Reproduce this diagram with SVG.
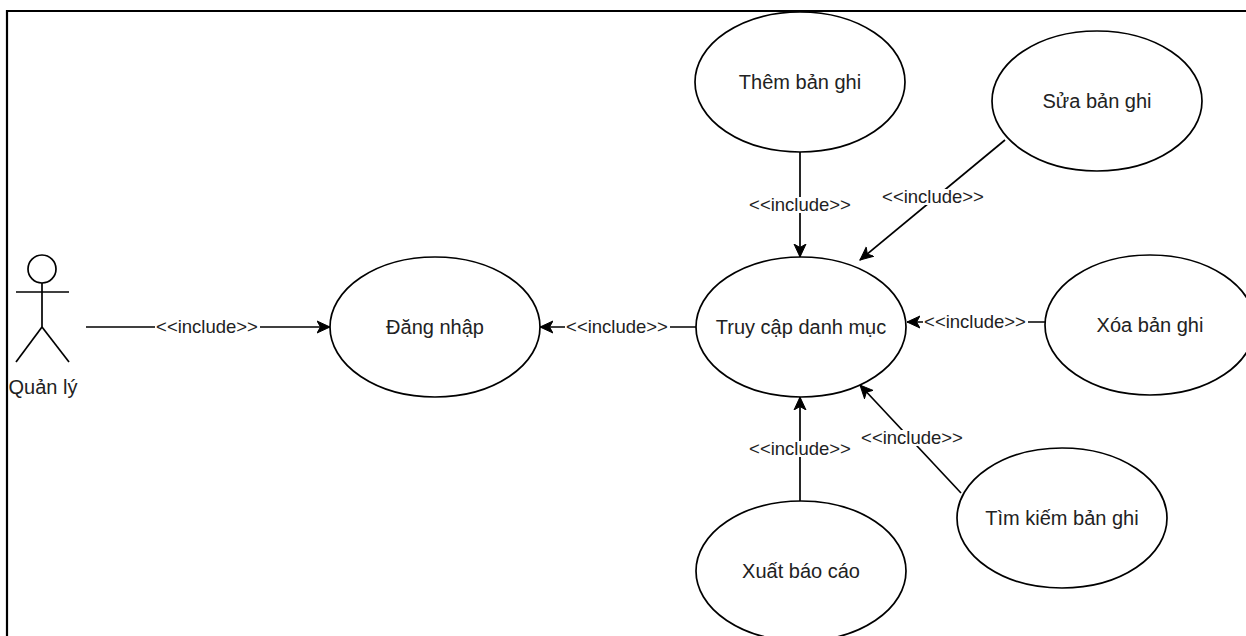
<svg xmlns="http://www.w3.org/2000/svg" width="1246" height="636" viewBox="0 0 1246 636">
  <style>
    .uc { fill: #ffffff; stroke: #000000; stroke-width: 1.7; }
    .uc-text { font-family: "Liberation Sans", Arial, sans-serif; font-size: 20px; fill: #222222; text-anchor: middle; }
    .edge { stroke: #000000; stroke-width: 1.7; fill: none; }
    .edge-label { font-family: "Liberation Sans", Arial, sans-serif; font-size: 18.5px; fill: #222222; text-anchor: middle; }
    .label-bg { fill: #ffffff; }
    .actor { stroke: #000000; stroke-width: 1.7; fill: #ffffff; }
  </style>
  <defs>
    <marker id="arrow" viewBox="0 0 14 14" refX="13" refY="7" markerWidth="14" markerHeight="14" markerUnits="userSpaceOnUse" orient="auto">
      <path d="M0,1 L13,7 L0,13 L3.5,7 Z" fill="#000000" stroke="#000000" stroke-width="1" stroke-linejoin="miter"/>
    </marker>
  </defs>

  <rect x="0" y="0" width="1246" height="636" fill="#ffffff"/>

  <!-- frame -->
  <path d="M7,636 V11 H1246" fill="none" stroke="#000000" stroke-width="2.2"/>

  <!-- connectors -->
  <g id="connectors">
    <line class="edge" x1="86" y1="327" x2="330" y2="327" marker-end="url(#arrow)"/>
    <line class="edge" x1="696" y1="327" x2="540" y2="327" marker-end="url(#arrow)"/>
    <line class="edge" x1="800" y1="152" x2="800" y2="257" marker-end="url(#arrow)"/>
    <line class="edge" x1="1005" y1="140" x2="860" y2="260" marker-end="url(#arrow)"/>
    <line class="edge" x1="1045" y1="322" x2="907" y2="322" marker-end="url(#arrow)"/>
    <line class="edge" x1="800" y1="501" x2="800" y2="397" marker-end="url(#arrow)"/>
    <line class="edge" x1="961" y1="493" x2="860" y2="385" marker-end="url(#arrow)"/>

    <rect class="label-bg" x="155" y="319" width="105" height="16"/>
    <text class="edge-label" x="207" y="333">&lt;&lt;include&gt;&gt;</text>
    <rect class="label-bg" x="565" y="319" width="105" height="16"/>
    <text class="edge-label" x="617" y="333">&lt;&lt;include&gt;&gt;</text>
    <rect class="label-bg" x="748" y="197" width="105" height="16"/>
    <text class="edge-label" x="800" y="211">&lt;&lt;include&gt;&gt;</text>
    <rect class="label-bg" x="881" y="189" width="105" height="16"/>
    <text class="edge-label" x="933" y="203">&lt;&lt;include&gt;&gt;</text>
    <rect class="label-bg" x="923" y="314" width="105" height="16"/>
    <text class="edge-label" x="975" y="328">&lt;&lt;include&gt;&gt;</text>
    <rect class="label-bg" x="748" y="441" width="105" height="16"/>
    <text class="edge-label" x="800" y="455">&lt;&lt;include&gt;&gt;</text>
    <rect class="label-bg" x="860" y="430" width="105" height="16"/>
    <text class="edge-label" x="912" y="444">&lt;&lt;include&gt;&gt;</text>
  </g>

  <!-- actor -->
  <g id="actor-quan-ly">
    <circle class="actor" cx="42" cy="269" r="14"/>
    <line class="actor" x1="42" y1="283" x2="42" y2="327"/>
    <line class="actor" x1="16" y1="292" x2="69" y2="292"/>
    <line class="actor" x1="42" y1="327" x2="16" y2="362"/>
    <line class="actor" x1="42" y1="327" x2="69" y2="362"/>
    <text class="uc-text" x="43" y="394">Quản lý</text>
  </g>

  <g id="uc-dang-nhap">
    <ellipse class="uc" cx="435" cy="327" rx="105" ry="70"/>
    <text class="uc-text" x="435" y="334">Đăng nhập</text>
  </g>

  <g id="uc-truy-cap">
    <ellipse class="uc" cx="801" cy="327" rx="105" ry="70"/>
    <text class="uc-text" x="801" y="334">Truy cập danh mục</text>
  </g>

  <g id="uc-them">
    <ellipse class="uc" cx="800" cy="82" rx="105" ry="70"/>
    <text class="uc-text" x="800" y="89">Thêm bản ghi</text>
  </g>

  <g id="uc-sua">
    <ellipse class="uc" cx="1097" cy="101" rx="105" ry="70"/>
    <text class="uc-text" x="1097" y="108">Sửa bản ghi</text>
  </g>

  <g id="uc-xoa">
    <ellipse class="uc" cx="1150" cy="325" rx="105" ry="70"/>
    <text class="uc-text" x="1150" y="332">Xóa bản ghi</text>
  </g>

  <g id="uc-xuat">
    <ellipse class="uc" cx="801" cy="571" rx="105" ry="70"/>
    <text class="uc-text" x="801" y="578">Xuất báo cáo</text>
  </g>

  <g id="uc-tim-kiem">
    <ellipse class="uc" cx="1062" cy="518" rx="105" ry="70"/>
    <text class="uc-text" x="1062" y="525">Tìm kiếm bản ghi</text>
  </g>
</svg>
